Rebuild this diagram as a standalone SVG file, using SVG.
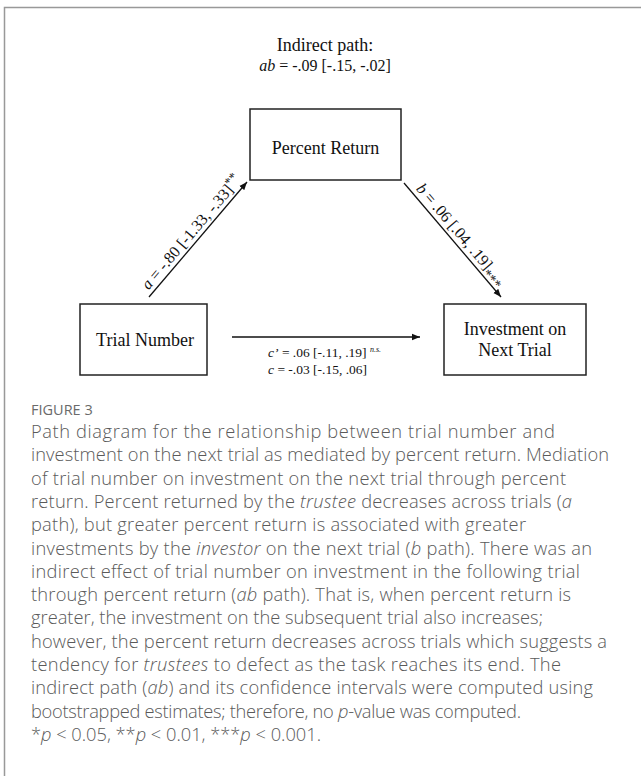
<svg xmlns="http://www.w3.org/2000/svg" width="641" height="776" viewBox="0 0 641 776">
<style>
.serif{font-family:"Liberation Serif","Times New Roman",serif;fill:#111}
.box{fill:#fff;stroke:#222;stroke-width:1.5}
.edge{stroke:#111;stroke-width:1.3;fill:none}
.cap{font-family:"Open Sans","Liberation Sans",sans-serif;font-size:18.3px;font-weight:300;fill:#5a5a5a}
.fig{font-family:"Open Sans","Liberation Sans",sans-serif;font-size:14.5px;fill:#6a6a6a}
.i{font-style:italic}
</style>
<defs>
<marker id="ah" viewBox="0 0 10 10" refX="10" refY="5" markerWidth="8" markerHeight="8" markerUnits="userSpaceOnUse" orient="auto">
<path d="M0,1 L10,5 L0,9 z" fill="#111"/>
</marker>
</defs>
<rect x="0" y="0" width="641" height="776" fill="#fff"/>
<path d="M4.5,776 V7.5 H641" fill="none" stroke="#999" stroke-width="1.5"/>

<g id="title">
<text class="serif" x="325" y="51" font-size="18" text-anchor="middle">Indirect path:</text>
<text class="serif" x="325" y="71" font-size="16" text-anchor="middle"><tspan class="i">ab</tspan> = -.09 [-.15, -.02]</text>
</g>

<g id="percent-return">
<rect class="box" x="250" y="109" width="151" height="71"/>
<text class="serif" x="325.5" y="154" font-size="18" text-anchor="middle">Percent Return</text>
</g>

<g id="trial-number">
<rect class="box" x="80" y="304" width="127" height="71"/>
<text class="serif" x="145" y="346" font-size="18" text-anchor="middle">Trial Number</text>
</g>

<g id="investment">
<rect class="box" x="444" y="304" width="142" height="71"/>
<text class="serif" x="515" y="335" font-size="18" text-anchor="middle">Investment on</text>
<text class="serif" x="515" y="356" font-size="18" text-anchor="middle">Next Trial</text>
</g>

<g id="connectors">
<line class="edge" x1="149" y1="297" x2="247" y2="182" marker-end="url(#ah)"/>
<line class="edge" x1="404" y1="183" x2="501" y2="297" marker-end="url(#ah)"/>
<line class="edge" x1="232" y1="337" x2="420" y2="337" marker-end="url(#ah)"/>
<text class="serif" font-size="16" transform="translate(148.5,290.5) rotate(-49.6)"><tspan class="i">a</tspan> = -.80 [-1.33, -.33]<tspan dy="-5" font-size="13">**</tspan></text>
<text class="serif" font-size="16" transform="translate(415.6,188.9) rotate(49.6)"><tspan class="i">b</tspan> = .06 [.04, .19]<tspan dy="5" font-size="14">***</tspan></text>
<text class="serif" x="268" y="357" font-size="13.5"><tspan class="i">c’</tspan> = .06 [-.11, .19] <tspan class="i" font-size="8" dy="-5">n.s.</tspan></text>
<text class="serif" x="268" y="374" font-size="13.5"><tspan class="i">c</tspan>  = -.03 [-.15, .06]</text>
</g>

<g id="caption">
<text class="fig" x="31" y="415">FIGURE 3</text>
<text class="cap" x="31" y="438" textLength="524" lengthAdjust="spacing">Path diagram for the relationship between trial number and</text>
<text class="cap" x="31" y="461.3" textLength="578" lengthAdjust="spacing">investment on the next trial as mediated by percent return. Mediation</text>
<text class="cap" x="31" y="484.6" textLength="535" lengthAdjust="spacing">of trial number on investment on the next trial through percent</text>
<text class="cap" x="31" y="507.9" textLength="541" lengthAdjust="spacing">return. Percent returned by the <tspan class="i">trustee</tspan> decreases across trials (<tspan class="i">a</tspan></text>
<text class="cap" x="31" y="531.2" textLength="495" lengthAdjust="spacing">path), but greater percent return is associated with greater</text>
<text class="cap" x="31" y="554.5" textLength="561" lengthAdjust="spacing">investments by the <tspan class="i">investor</tspan> on the next trial (<tspan class="i">b</tspan> path). There was an</text>
<text class="cap" x="31" y="577.8" textLength="549" lengthAdjust="spacing">indirect effect of trial number on investment in the following trial</text>
<text class="cap" x="31" y="601.1" textLength="540" lengthAdjust="spacing">through percent return (<tspan class="i">ab</tspan> path). That is, when percent return is</text>
<text class="cap" x="31" y="624.4" textLength="512" lengthAdjust="spacing">greater, the investment on the subsequent trial also increases;</text>
<text class="cap" x="31" y="647.7" textLength="576" lengthAdjust="spacing">however, the percent return decreases across trials which suggests a</text>
<text class="cap" x="31" y="671" textLength="530" lengthAdjust="spacing">tendency for <tspan class="i">trustees</tspan> to defect as the task reaches its end. The</text>
<text class="cap" x="31" y="694.3" textLength="562" lengthAdjust="spacing">indirect path (<tspan class="i">ab</tspan>) and its confidence intervals were computed using</text>
<text class="cap" x="31" y="717.6" textLength="490" lengthAdjust="spacing">bootstrapped estimates; therefore, no <tspan class="i">p</tspan>-value was computed.</text>
<text class="cap" x="31" y="740.9" textLength="290" lengthAdjust="spacing">*<tspan class="i">p</tspan> &lt; 0.05, **<tspan class="i">p</tspan> &lt; 0.01, ***<tspan class="i">p</tspan> &lt; 0.001.</text>
</g>
</svg>
